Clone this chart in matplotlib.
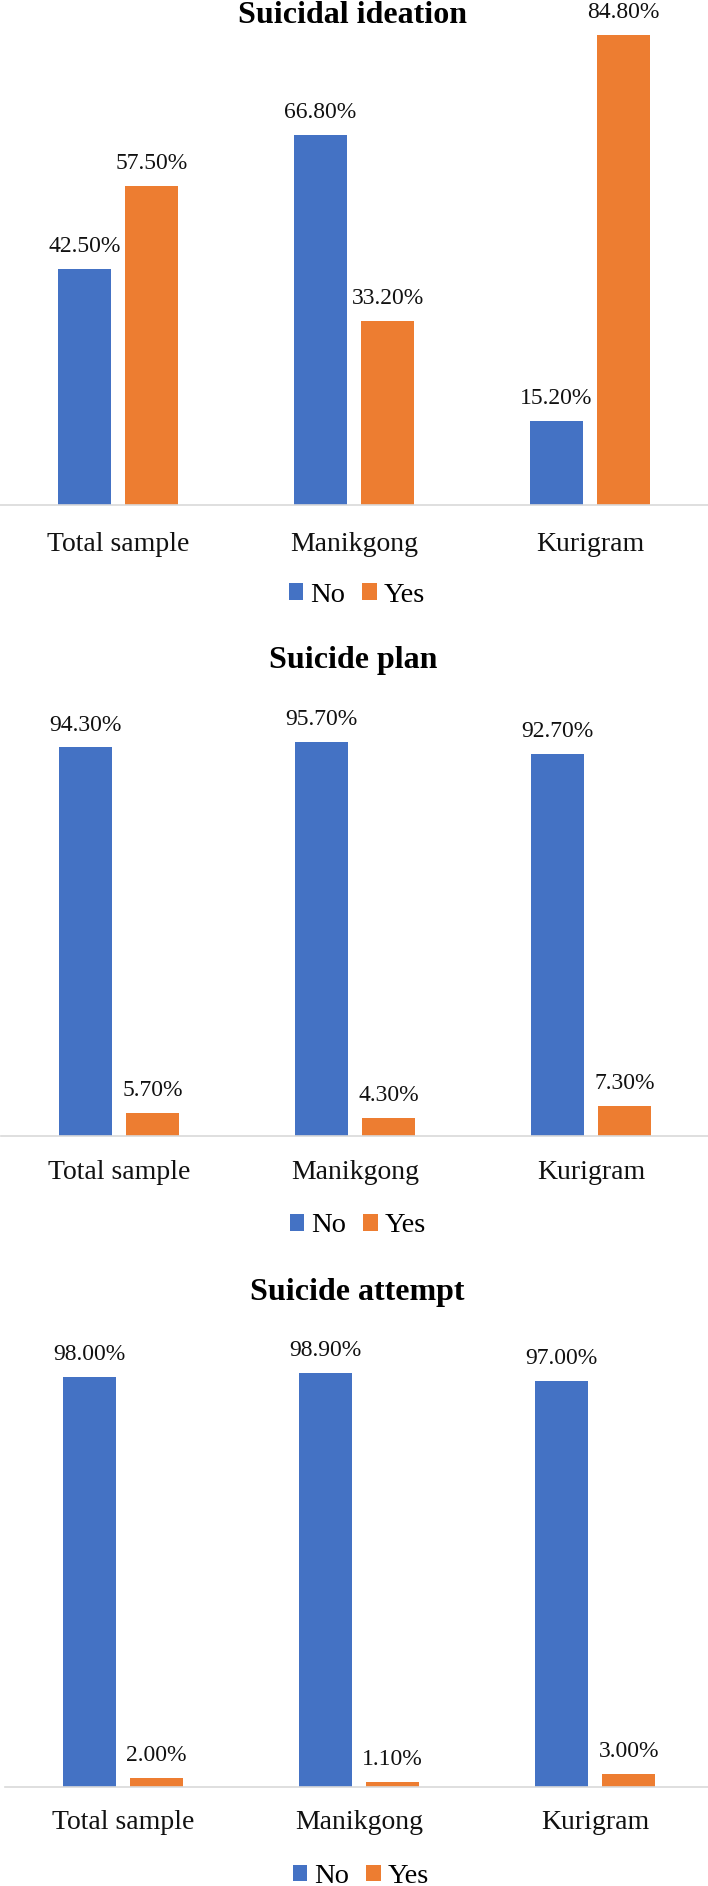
import matplotlib
matplotlib.use("Agg")
import matplotlib.pyplot as plt
import numpy as np

plt.rcParams['font.family'] = ['Liberation Serif', 'DejaVu Serif']

categories = ["Total sample", "Manikgong", "Kurigram"]
series_names = ["No", "Yes"]
titles = ["Suicidal ideation", "Suicide plan", "Suicide attempt"]
ideation_no = [42.5, 66.8, 15.2]
ideation_yes = [57.5, 33.2, 84.8]
plan_no = [94.3, 95.7, 92.7]
plan_yes = [5.7, 4.3, 7.3]
attempt_no = [98.0, 98.9, 97.0]
attempt_yes = [2.0, 1.1, 3.0]

colors = ["#4472C4", "#ED7D31"]

W, H = 708, 1886
fig = plt.figure(figsize=(W / 100, H / 100), dpi=100)

def fy(y):
    return 1 - y / H

# layout in pixel units
panels = [
    dict(no=ideation_no, yes=ideation_yes, left=0, base=505, scale=5.545, ymax=90,
         title_y=23, title_x=352, leg_x=357, pad=19.5),
    dict(no=plan_no, yes=plan_yes, left=1, base=1136, scale=4.12, ymax=100,
         title_y=668, title_x=353, leg_x=358, pad=17),
    dict(no=attempt_no, yes=attempt_yes, left=5, base=1786.5, scale=4.18, ymax=100,
         title_y=1300, title_x=357, leg_x=361, pad=17),
]

x = np.arange(len(categories))
bw = 0.225
off = 0.1425

for p, title in zip(panels, titles):
    hpx = p['scale'] * p['ymax']
    ax = fig.add_axes([p['left'] / W, fy(p['base']), 1.0, hpx / H])
    b1 = ax.bar(x - off, p['no'], bw, color=colors[0], label=series_names[0])
    b2 = ax.bar(x + off, p['yes'], bw, color=colors[1], label=series_names[1])
    for bars, vals in ((b1, p['no']), (b2, p['yes'])):
        for rect, v in zip(bars, vals):
            ax.annotate(f"{v:.2f}%", (rect.get_x() + rect.get_width() / 2, v),
                        xytext=(0, 12.2), textcoords='offset points',
                        ha='center', va='baseline', fontsize=17, color='#111111',
                        annotation_clip=False)
    ax.set_xlim(-0.5, 2.5)
    ax.set_ylim(0, p['ymax'])
    ax.set_xticks(x)
    ax.set_xticklabels(categories, fontsize=20, color='#111111')
    ax.tick_params(axis='x', length=0, pad=p['pad'])
    ax.set_yticks([])
    for s in ('top', 'left', 'right'):
        ax.spines[s].set_visible(False)
    ax.spines['bottom'].set_color('#D9D9D9')
    ax.spines['bottom'].set_linewidth(1.2)
    ax.patch.set_alpha(0)
    fig.text(p['title_x'] / W, fy(p['title_y']), title, ha='center', va='baseline',
             fontsize=23, fontweight='bold', color='#000000')
    ax.legend(handles=[b1, b2], loc='center',
              bbox_to_anchor=(p['leg_x'] / W, fy(p['base'] + 90)),
              bbox_transform=fig.transFigure, ncol=2, frameon=False,
              fontsize=20.5, handlelength=0.5, handleheight=0.5,
              handletextpad=0.25, columnspacing=0.6, borderpad=0, borderaxespad=0)

fig.savefig("out.png", dpi=100)
